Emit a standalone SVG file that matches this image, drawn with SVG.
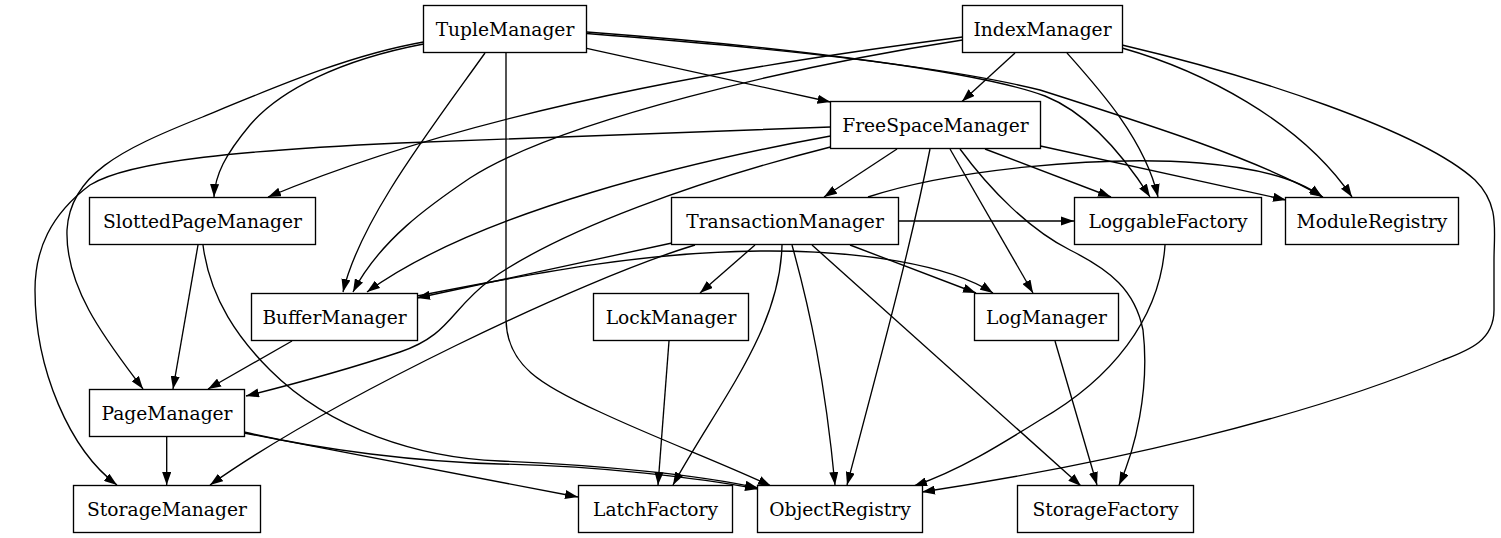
<svg xmlns="http://www.w3.org/2000/svg" width="1501" height="538" viewBox="0 0 1501 538">
<style>
.n rect{fill:#fff;stroke:#000;stroke-width:1.35}
.n text{font-family:"DejaVu Serif",serif;font-size:18.67px;text-anchor:middle;fill:#000}
.e path{fill:none;stroke:#000;stroke-width:1.35;marker-end:url(#a)}
</style>
<defs>
<marker id="a" viewBox="0 0 10 7" refX="10" refY="3.5" markerWidth="13" markerHeight="9.1" markerUnits="userSpaceOnUse" orient="auto">
<polygon points="0,0 10,3.5 0,7" fill="#000"/>
</marker>
</defs>
<rect width="1501" height="538" fill="#fff"/>
<g id="edges" class="e">
<path d="M586.7,48.3 L830.5,102"/>
<path d="M586.7,32 C800,48 980,72 1045,96 C1085,112 1120,150 1150,197"/>
<path d="M586.7,33.5 C800,50 960,70 1040,90 C1150,125 1260,160 1323,197"/>
<path d="M423.5,44 C340,60 280,90 250,125 C225,155 215,175 214,197"/>
<path d="M423.5,42 C350,55 280,85 200,118 C120,150 70,175 67,230 C65,290 110,345 143,389"/>
<path d="M485,53 C430,130 360,220 343,292"/>
<path d="M506,53 L506,320 C507,365 540,385 600,412 C660,440 720,462 771,486"/>
<path d="M1015,53 L962,101.5"/>
<path d="M1067,53 C1100,90 1145,140 1158,197"/>
<path d="M1122,48 C1200,70 1300,120 1352,197"/>
<path d="M1122,45 C1250,75 1420,130 1475,180 C1500,205 1494,230 1494,260 L1494,310 C1494,340 1470,350 1443,360 C1300,420 1100,465 922,492"/>
<path d="M962.5,37 C800,58 500,100 268,197"/>
<path d="M962.5,40 C800,65 560,120 470,178 C430,205 380,240 353,292"/>
<path d="M897,149 L824,197"/>
<path d="M985,149 L1111,197"/>
<path d="M1040.5,146 L1286,200"/>
<path d="M950,149 L1033,293"/>
<path d="M960,149 C990,190 1030,230 1070,250 C1110,270 1135,290 1143,330 C1150,390 1135,450 1119,485"/>
<path d="M930,149 C910,250 880,360 847,485"/>
<path d="M830.5,136 C700,160 480,210 367,292"/>
<path d="M830.5,147 C700,180 560,230 490,280 C450,310 450,335 400,352 C340,372 290,385 246,396"/>
<path d="M830.5,127 L400,143 C250,150 130,160 90,185 C50,215 35,250 35,290 C35,370 70,450 117,485"/>
<path d="M898.5,221 L1074,221"/>
<path d="M868,197 C950,170 1100,155 1200,163 C1260,168 1300,180 1322,197"/>
<path d="M755,245 L700,293"/>
<path d="M850,245 L976,293"/>
<path d="M782,245 C780,330 720,400 673,485"/>
<path d="M792,245 C810,310 825,380 835,485"/>
<path d="M812,245 L1081,486"/>
<path d="M672,243 L417,298"/>
<path d="M695,245 C580,280 330,400 210,485"/>
<path d="M417,296 C550,270 650,252 760,251 C860,250 950,265 993,293"/>
<path d="M292,341 L208,389"/>
<path d="M198,245 L173,389"/>
<path d="M203,245 C210,300 240,340 270,370 C330,430 420,458 500,461 C600,465 700,475 758,488"/>
<path d="M166.7,437 L166.7,485"/>
<path d="M244,433 L578,497"/>
<path d="M244,432 C320,450 420,462 500,464 C600,466 700,478 758,489"/>
<path d="M669,341 L658,485"/>
<path d="M1055,341 L1097,485"/>
<path d="M1165,245 C1160,320 1110,380 1040,420 C1000,445 960,470 914,486"/>
</g>
<g id="TupleManager" class="n"><rect x="423.5" y="5.5" width="163" height="47"/><text x="505" y="35.5">TupleManager</text></g>
<g id="IndexManager" class="n"><rect x="962.5" y="5.5" width="160" height="47"/><text x="1042.5" y="35.5">IndexManager</text></g>
<g id="FreeSpaceManager" class="n"><rect x="830.5" y="101.5" width="210" height="47"/><text x="935.5" y="131.5">FreeSpaceManager</text></g>
<g id="SlottedPageManager" class="n"><rect x="89.5" y="197.5" width="226" height="47"/><text x="202.5" y="227.5">SlottedPageManager</text></g>
<g id="TransactionManager" class="n"><rect x="671.5" y="197.5" width="227" height="47"/><text x="785" y="227.5">TransactionManager</text></g>
<g id="LoggableFactory" class="n"><rect x="1074.5" y="197.5" width="187" height="47"/><text x="1168" y="227.5">LoggableFactory</text></g>
<g id="ModuleRegistry" class="n"><rect x="1285.5" y="197.5" width="173" height="47"/><text x="1372" y="227.5">ModuleRegistry</text></g>
<g id="BufferManager" class="n"><rect x="251.5" y="293.5" width="166" height="47"/><text x="334.5" y="323.5">BufferManager</text></g>
<g id="LockManager" class="n"><rect x="593.5" y="293.5" width="155" height="47"/><text x="671" y="323.5">LockManager</text></g>
<g id="LogManager" class="n"><rect x="974.5" y="293.5" width="144" height="47"/><text x="1046.5" y="323.5">LogManager</text></g>
<g id="PageManager" class="n"><rect x="89.5" y="389.5" width="155" height="47"/><text x="167" y="419.5">PageManager</text></g>
<g id="StorageManager" class="n"><rect x="73.5" y="485.5" width="187" height="47"/><text x="167" y="515.5">StorageManager</text></g>
<g id="LatchFactory" class="n"><rect x="578.5" y="485.5" width="154" height="47"/><text x="655.5" y="515.5">LatchFactory</text></g>
<g id="ObjectRegistry" class="n"><rect x="757.5" y="485.5" width="165" height="47"/><text x="840" y="515.5">ObjectRegistry</text></g>
<g id="StorageFactory" class="n"><rect x="1017.5" y="485.5" width="176" height="47"/><text x="1105.5" y="515.5">StorageFactory</text></g>
</svg>
